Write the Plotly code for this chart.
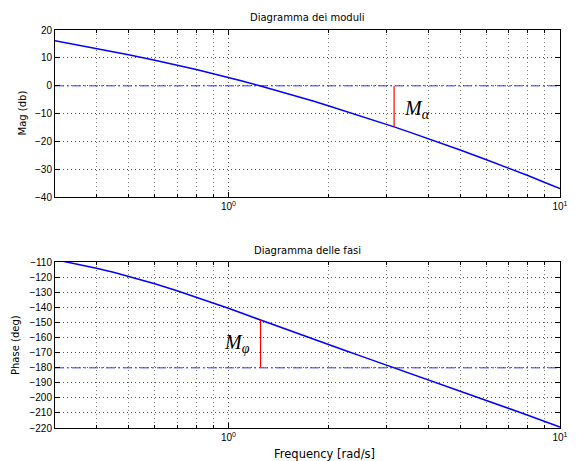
import plotly.graph_objects as go

# ---- data ----
freq = [0.3, 0.35, 0.4, 0.45, 0.5, 0.6, 0.7, 0.8, 0.9, 1.0, 1.1, 1.25, 1.4, 1.5, 1.6,
        1.75, 1.8, 2.0, 2.25, 2.5, 2.75, 3.0, 3.16, 3.5, 4.0, 4.5, 5.0, 6.0, 7.0,
        8.0, 9.0, 10.0]
mag_db = [16.1, 14.6, 13.3, 12.2, 11.1, 9.1, 7.4, 5.8, 4.3, 3.0, 1.7, -0.1, -1.7, -2.7,
          -3.7, -5.1, -5.5, -7.2, -9.1, -10.8, -12.4, -13.9, -14.8, -16.6, -19.0,
          -21.1, -23.1, -26.6, -29.6, -32.3, -34.8, -37.0]
phase_deg = [-108.4, -111.3, -114.1, -116.8, -119.4, -124.4, -129.0, -133.2, -137.1,
             -140.7, -144.0, -148.5, -152.4, -154.8, -157.1, -160.2, -161.2, -164.7,
             -168.7, -172.2, -175.4, -178.3, -180.0, -183.3, -187.8, -191.7, -195.3,
             -201.5, -206.9, -211.5, -215.7, -219.3]

ref_mag = 0.0          # 0 dB reference line
ref_phase = -180.0     # -180 deg reference line
w_alpha = 3.16         # frequency of the gain-margin segment
mag_at_w_alpha = -14.8
w_phi = 1.25           # crossover frequency (phase-margin segment)
phase_at_w_phi = -148.5

x_range = [0.3, 10.0]
mag_ticks = [20, 10, 0, -10, -20, -30, -40]
phase_ticks = [-110, -120, -130, -140, -150, -160, -170, -180, -190, -200, -210, -220]
x_tickvals = [1, 10]
x_ticktext = ["10<sup>0</sup>", "10<sup>1</sup>"]

W, H = 577, 461
BLUE = "#0000ff"
DASHBLUE = "rgba(60,60,255,0.7)"
RED = "#ff0000"
GRID = "#555555"

fig = go.Figure()

# top: magnitude
fig.add_trace(go.Scatter(x=x_range, y=[ref_mag, ref_mag], mode="lines",
                         line=dict(color=DASHBLUE, width=1.5, dash="9px,3px,2px,3px"),
                         xaxis="x", yaxis="y", hoverinfo="skip"))
fig.add_trace(go.Scatter(x=freq, y=mag_db, mode="lines",
                         line=dict(color=BLUE, width=1.5), xaxis="x", yaxis="y"))
fig.add_trace(go.Scatter(x=[w_alpha, w_alpha], y=[ref_mag, mag_at_w_alpha], mode="lines",
                         line=dict(color=RED, width=1.2), xaxis="x", yaxis="y"))

# bottom: phase
fig.add_trace(go.Scatter(x=x_range, y=[ref_phase, ref_phase], mode="lines",
                         line=dict(color=DASHBLUE, width=1.5, dash="9px,3px,2px,3px"),
                         xaxis="x2", yaxis="y2", hoverinfo="skip"))
fig.add_trace(go.Scatter(x=freq, y=phase_deg, mode="lines",
                         line=dict(color=BLUE, width=1.5), xaxis="x2", yaxis="y2"))
fig.add_trace(go.Scatter(x=[w_phi, w_phi], y=[ref_phase, phase_at_w_phi], mode="lines",
                         line=dict(color=RED, width=1.2), xaxis="x2", yaxis="y2"))

tickfont = dict(family="Liberation Sans, Arial, sans-serif", size=10, color="black")

def xaxis_cfg(anchor, show_labels=True):
    return dict(type="log", range=[-0.5229, 1.0], domain=[55 / W, 560 / W], anchor=anchor,
                tickmode="array", tickvals=x_tickvals, ticktext=x_ticktext,
                showticklabels=show_labels, tickfont=tickfont,
                ticks="inside", ticklen=5, tickcolor="black",
                showline=True, linecolor="black", linewidth=1, mirror="allticks",
                showgrid=True, gridcolor=GRID, gridwidth=1, griddash="1px,3px",
                minor=dict(dtick="D1", ticks="inside", ticklen=3, tickcolor="black",
                           showgrid=True, gridcolor="#777777", gridwidth=1, griddash="1px,3px"),
                zeroline=False, automargin=False, fixedrange=True)

def yaxis_cfg(anchor, rng, ticks, dom):
    return dict(range=rng, domain=dom, anchor=anchor, tickmode="array", tickvals=ticks,
                tickfont=tickfont, ticks="inside", ticklen=5, tickcolor="black",
                showline=True, linecolor="black", linewidth=1, mirror="allticks",
                showgrid=True, gridcolor=GRID, gridwidth=1, griddash="1px,3px",
                zeroline=False, automargin=False, fixedrange=True)

fig.update_layout(
    width=W, height=H,
    margin=dict(l=0, r=0, t=0, b=0),
    paper_bgcolor="white", plot_bgcolor="white",
    showlegend=False,
    xaxis=xaxis_cfg("y"),
    yaxis=yaxis_cfg("x", [-40, 20], mag_ticks, [1 - 197 / H, 1 - 30 / H]),
    xaxis2=xaxis_cfg("y2"),
    yaxis2=yaxis_cfg("x2", [-220, -110], phase_ticks, [1 - 428 / H, 1 - 262 / H]),
)

lab = dict(family="DejaVu Sans, sans-serif", size=10, color="black")
ann = [
    dict(text="Diagramma dei moduli", x=307 / W, y=1 - 17 / H, xref="paper", yref="paper",
         showarrow=False, font=lab, xanchor="center", yanchor="middle"),
    dict(text="Diagramma delle fasi", x=307 / W, y=1 - 250 / H, xref="paper", yref="paper",
         showarrow=False, font=lab, xanchor="center", yanchor="middle"),
    dict(text="Mag (db)", x=22 / W, y=1 - 113.5 / H, xref="paper", yref="paper",
         showarrow=False, font=lab, textangle=-90, xanchor="center", yanchor="middle"),
    dict(text="Phase (deg)", x=15 / W, y=1 - 345 / H, xref="paper", yref="paper",
         showarrow=False, font=lab, textangle=-90, xanchor="center", yanchor="middle"),
    dict(text="Frequency [rad/s]", x=324 / W, y=1 - 454 / H, xref="paper", yref="paper",
         showarrow=False, font=dict(family="DejaVu Sans, sans-serif", size=11.5, color="black"),
         xanchor="center", yanchor="middle"),
    dict(text="<i>M</i><sub><i>α</i></sub>", x=0.524, y=-8.5, xref="x", yref="y",
         showarrow=False, font=dict(family="Liberation Serif, serif", size=20, color="black"),
         xanchor="left", yanchor="middle"),
    dict(text="<i>M</i><sub><i>φ</i></sub>", x=-0.018, y=-164, xref="x2", yref="y2",
         showarrow=False, font=dict(family="Liberation Serif, serif", size=20, color="black"),
         xanchor="left", yanchor="middle"),
]
fig.update_layout(annotations=ann)

fig.write_html("out.html", config={"displayModeBar": False},
               post_script="document.body.style.margin='0';document.body.style.padding='0';")
